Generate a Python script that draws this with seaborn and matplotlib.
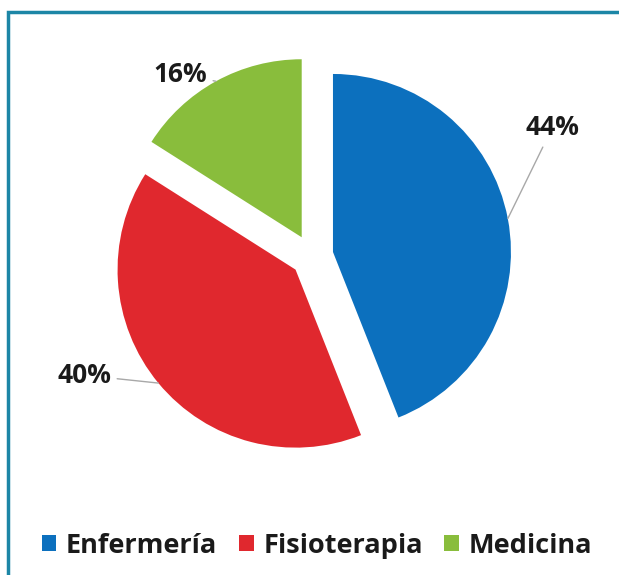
"""Pie chart: share of respondents by degree (Enfermería / Fisioterapia / Medicina)."""

import numpy as np
import matplotlib
matplotlib.use("Agg")
import matplotlib.pyplot as plt
import seaborn as sns
from matplotlib.patches import Rectangle

sns.set_theme(style="white")
plt.rcParams['font.family'] = ['Open Sans', 'DejaVu Sans']

# Data
categories = ["Enfermería", "Fisioterapia", "Medicina"]
shares = [44, 40, 16]
pct_labels = ["44%", "40%", "16%"]

colors = ["#0c70be", "#e0282e", "#89bd3c"]
explode = [0.12, 0.12, 0.12]
# label offsets (data units from pie centre) - layout only
label_pos = [(1.35, 0.72), (-1.28, -0.67), (-0.74, 1.02)]

fig = plt.figure(figsize=(6.19, 5.75), dpi=100)
ax = fig.add_axes([0, 0, 1, 1])

wedges, _ = ax.pie(
    shares,
    colors=colors,
    explode=explode,
    startangle=90,
    counterclock=False,
    radius=1.0,
    wedgeprops={"linewidth": 0},
)

for wedge, txt, pos in zip(wedges, pct_labels, label_pos):
    mid = np.deg2rad((wedge.theta1 + wedge.theta2) / 2)
    cx, cy = wedge.center
    edge = (cx + wedge.r * np.cos(mid), cy + wedge.r * np.sin(mid))
    ax.annotate(
        txt, xy=edge, xytext=pos,
        ha="center", va="center", fontsize=19, fontweight="bold", color="#1a1a1a",
        arrowprops=dict(arrowstyle="-", color="#a8a8a8", lw=1.0,
                        shrinkA=2, shrinkB=0),
    )

ax.set_xlim(-1.753, 1.725)
ax.set_ylim(-1.792, 1.438)
ax.set_aspect("auto")
ax.axis("off")

leg = ax.legend(
    wedges, categories,
    loc="lower center", bbox_to_anchor=(0.512, -0.014), ncol=3,
    frameon=False, handlelength=0.55, handleheight=0.55,
    handletextpad=0.35, columnspacing=0.8,
    prop={"weight": "bold", "size": 19.5},
)
for t in leg.get_texts():
    t.set_color("#1a1a1a")

# teal frame (top and left edges visible, rest cropped)
fig.patches.append(Rectangle(
    (8 / 619, -0.05), 1.1, 1 - 12 / 575 + 0.05,
    transform=fig.transFigure, fill=False,
    edgecolor="#1c86a6", linewidth=2.5, zorder=0,
))

fig.savefig("out.png", dpi=100, facecolor="white")
